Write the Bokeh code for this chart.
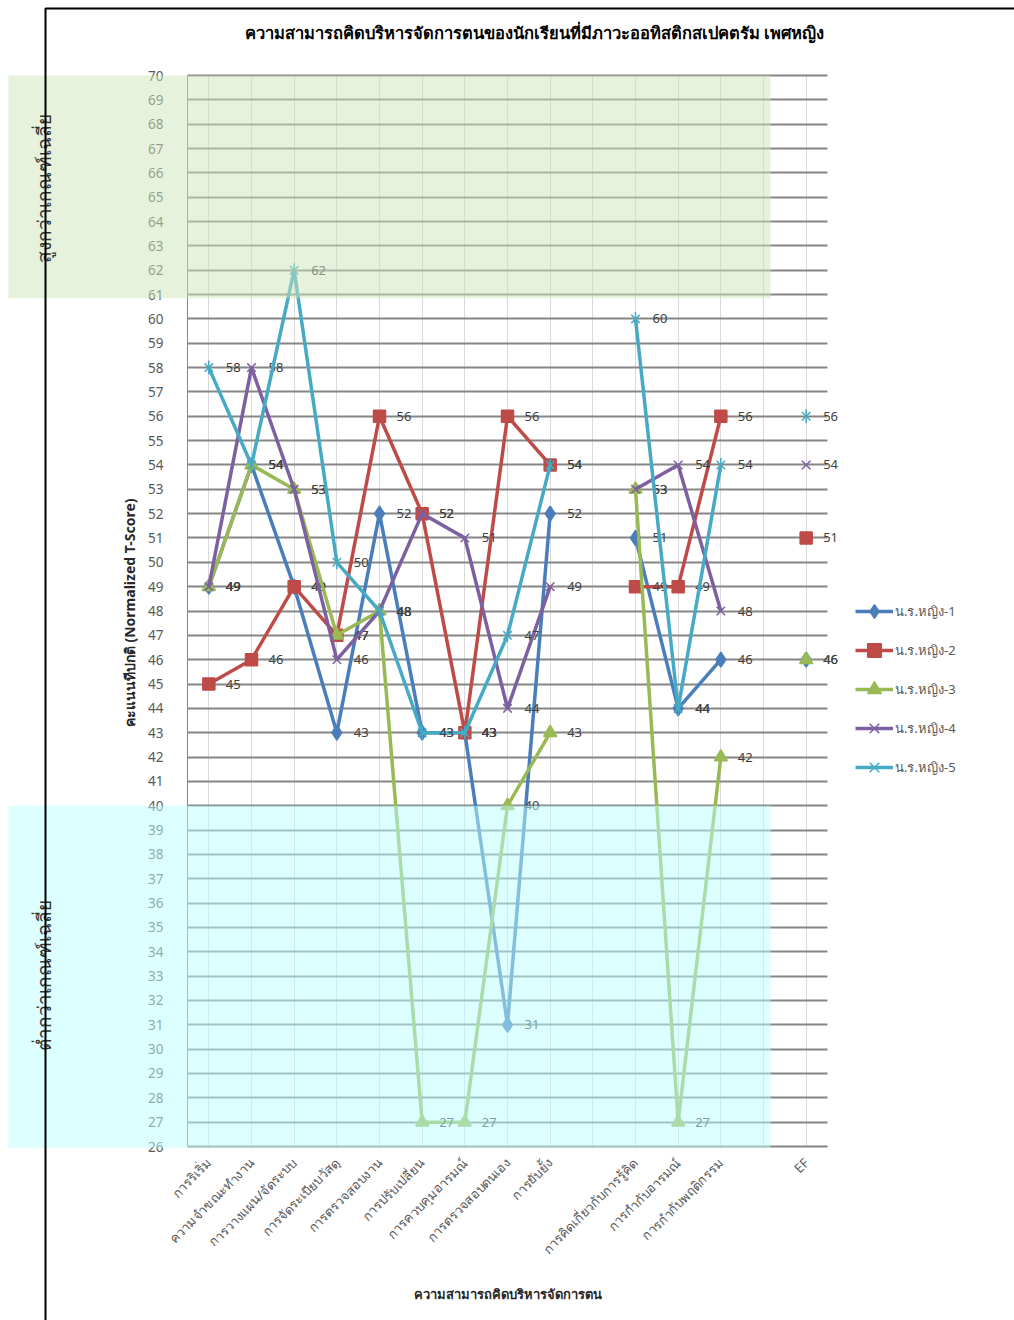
import math
from bokeh.plotting import figure
from bokeh.models import (ColumnDataSource, FixedTicker, Legend, LegendItem, Label,
                          BoxAnnotation, Range1d, Grid)
from bokeh.core.properties import value
from bokeh.embed import file_html
from bokeh.resources import INLINE

NA = float("nan")
CATEGORIES = ["การริเริ่ม", "ความจำขณะทำงาน", "การวางแผน/จัดระบบ", "การจัดระเบียบวัสดุ",
              "การตรวจสอบงาน", "การปรับเปลี่ยน", "การควบคุมอารมณ์", "การตรวจสอบตนเอง",
              "การยับยั้ง", "", "การคิดเกี่ยวกับการรู้คิด", "การกำกับอารมณ์",
              "การกำกับพฤติกรรม", "", "EF"]
STUDENT_1 = [49, 54, 49, 43, 52, 43, 43, 31, 52, NA, 51, 44, 46, NA, 46]
STUDENT_2 = [45, 46, 49, 47, 56, 52, 43, 56, 54, NA, 49, 49, 56, NA, 51]
STUDENT_3 = [49, 54, 53, 47, 48, 27, 27, 40, 43, NA, 53, 27, 42, NA, 46]
STUDENT_4 = [49, 58, 53, 46, 48, 52, 51, 44, 49, NA, 53, 54, 48, NA, 54]
STUDENT_5 = [58, 54, 62, 50, 48, 43, 43, 47, 54, NA, 60, 44, 54, NA, 56]
SERIES_NAMES = ["น.ร.หญิง-1", "น.ร.หญิง-2", "น.ร.หญิง-3", "น.ร.หญิง-4", "น.ร.หญิง-5"]
Y_MIN, Y_MAX = 26, 70
Y_TICKS = list(range(Y_MIN, Y_MAX + 1))
HIGH_BAND = (61, 70)
LOW_BAND = (26, 40)
TITLE = "ความสามารถคิดบริหารจัดการตนของนักเรียนที่มีภาวะออทิสติกสเปคตรัม เพศหญิง"
X_TITLE = "ความสามารถคิดบริหารจัดการตน"
Y_TITLE = "คะแนนทีปกติ  (Normalized T-Score)"
HIGH_TEXT = "สูงกว่าเกณฑ์เฉลี่ย"
LOW_TEXT = "ต่ำกว่าเกณฑ์เฉลี่ย"

COLORS = ["#4A7EBB", "#BE4B48", "#98B954", "#7D60A0", "#46AAC5"]
MARKERS = ["diamond", "square", "triangle", "x", "x"]
MSIZES = [15, 12, 13, 12, 12]

FONT = "Noto Sans"
W, H = 1014, 1320

# layout (pixels on the page)
PX_L, PX_R = 187, 827
PY_T, PY_B = 75, 1146
NCAT = len(CATEGORIES)
XSTEP = (PX_R - PX_L) / NCAT
YSTEP = (PY_B - PY_T) / (Y_MAX - Y_MIN)


def px2x(px):
    return 0.5 + (px - PX_L) / XSTEP


def px2y(py):
    return Y_MAX - (py - PY_T) / YSTEP


p = figure(width=W, height=H, output_backend="svg", toolbar_location=None,
           x_range=Range1d(px2x(0), px2x(W)), y_range=Range1d(px2y(H), px2y(0)),
           min_border=0, min_border_left=0, min_border_right=0, min_border_top=0,
           min_border_bottom=0)
p.outline_line_color = None
p.background_fill_color = "white"
p.border_fill_color = "white"

xs_all = list(range(1, NCAT + 1))
xa = p.xaxis[0]
xa.fixed_location = Y_MIN
xa.bounds = (0.5, NCAT + 0.5)
xa.ticker = FixedTicker(ticks=xs_all)
xa.major_label_overrides = {i + 1: c for i, c in enumerate(CATEGORIES)}
xa.major_label_orientation = math.pi / 4
xa.major_label_text_font = FONT
xa.major_label_text_font_size = "13px"
xa.major_label_text_color = "#595959"
xa.major_tick_line_color = None
xa.minor_tick_line_color = None
xa.axis_line_color = "#868686"
xa.axis_line_width = 1
xa.major_label_standoff = 8
xa.axis_label = X_TITLE
xa.axis_label_text_font = FONT
xa.axis_label_text_font_style = "bold"
xa.axis_label_text_font_size = "13px"
xa.axis_label_text_color = "#262626"
xa.axis_label_standoff = 18

ya = p.yaxis[0]
ya.fixed_location = 0.5
ya.bounds = (Y_MIN, Y_MAX)
ya.ticker = FixedTicker(ticks=Y_TICKS)
ya.major_label_text_font = FONT
ya.major_label_text_font_size = "13.5px"
ya.major_label_text_color = "#595959"
ya.major_tick_line_color = None
ya.minor_tick_line_color = None
ya.axis_line_color = "#868686"
ya.major_label_standoff = 18
ya.axis_label = Y_TITLE
ya.axis_label_text_font = FONT
ya.axis_label_text_font_style = "bold"
ya.axis_label_text_font_size = "14px"
ya.axis_label_text_color = "#262626"
ya.axis_label_standoff = 6

has_cross = "cross_bounds" in Grid.properties()
p.ygrid.ticker = FixedTicker(ticks=Y_TICKS)
p.xgrid.ticker = FixedTicker(ticks=xs_all)
if has_cross:
    p.ygrid.cross_bounds = (0.5, NCAT + 0.5)
    p.xgrid.cross_bounds = (Y_MIN, Y_MAX)
    p.ygrid.grid_line_color = "#868686"
    p.ygrid.grid_line_width = 2
    p.xgrid.grid_line_color = "#D9D9D9"
    p.xgrid.grid_line_width = 1
else:
    p.ygrid.grid_line_color = None
    p.xgrid.grid_line_color = None
    p.segment(x0=[1 - 0.5] * len(Y_TICKS), x1=[NCAT + 0.5] * len(Y_TICKS), y0=Y_TICKS, y1=Y_TICKS,
              line_color="#868686", line_width=2, level="underlay")
    p.segment(x0=xs_all, x1=xs_all, y0=[Y_MIN] * NCAT, y1=[Y_MAX] * NCAT,
              line_color="#D9D9D9", line_width=1, level="underlay")

items = []
for k, (name, ys, col, mk, ms) in enumerate(zip(SERIES_NAMES,
                                               [STUDENT_1, STUDENT_2, STUDENT_3, STUDENT_4, STUDENT_5],
                                               COLORS, MARKERS, MSIZES)):
    line_src = ColumnDataSource(dict(x=xs_all, y=ys))
    pts = [(x, y) for x, y in zip(xs_all, ys) if not math.isnan(y)]
    pt_src = ColumnDataSource(dict(x=[a for a, _ in pts], y=[b for _, b in pts],
                                   t=[str(int(b)) for _, b in pts]))
    rs = [p.line("x", "y", source=line_src, line_color=col, line_width=3.5)]
    rs.append(p.scatter("x", "y", source=pt_src, marker=mk, size=ms, fill_color=col,
                        line_color=col, line_width=1.5))
    if k == 4:
        rs.append(p.scatter("x", "y", source=pt_src, marker="dash", angle=math.pi / 2, size=14,
                            line_color=col, line_width=1.5))
    p.text("x", "y", text="t", source=pt_src, x_offset=17, text_baseline="middle",
           text_align="left", text_font=value(FONT), text_font_size="13px", text_color="#404040")
    items.append(LegendItem(label=name, renderers=rs))

legend = Legend(items=items, location=(855, H - 784), orientation="vertical",
                label_text_font=FONT, label_text_font_size="13px", label_text_color="#595959",
                glyph_width=38, glyph_height=34, spacing=5, label_standoff=2,
                background_fill_alpha=0, border_line_color=None, padding=0, margin=0)
p.add_layout(legend, "center")

p.add_layout(BoxAnnotation(left=px2x(8), right=px2x(770),
                           bottom=HIGH_BAND[0] - 0.15, top=HIGH_BAND[1], fill_color="#CDE5B9",
                           fill_alpha=0.5, line_color=None))
p.add_layout(BoxAnnotation(left=px2x(8), right=px2x(770),
                           bottom=LOW_BAND[0] - 0.05, top=LOW_BAND[1], fill_color="#BBFFFF",
                           fill_alpha=0.5, line_color=None))

p.add_layout(Label(x=px2x(534), y=px2y(32), text=TITLE,
                   text_align="center", text_baseline="middle", text_font=FONT,
                   text_font_size="16.5px", text_font_style="bold", text_color="#000000"))
p.add_layout(Label(x=px2x(43), y=px2y(188), text=HIGH_TEXT, angle=math.pi / 2,
                   text_align="center", text_baseline="middle", text_font=FONT,
                   text_font_size="19px", text_color="#333333"))
p.add_layout(Label(x=px2x(43), y=px2y(975), text=LOW_TEXT, angle=math.pi / 2,
                   text_align="center", text_baseline="middle", text_font=FONT,
                   text_font_size="19px", text_color="#333333"))
p.add_layout(BoxAnnotation(left=px2x(45), right=px2x(W + 50), top=px2y(8), bottom=px2y(H + 50),
                           fill_alpha=0, line_color="black", line_alpha=1.0, line_width=2))

open("out.html", "w").write(file_html(p, INLINE))
